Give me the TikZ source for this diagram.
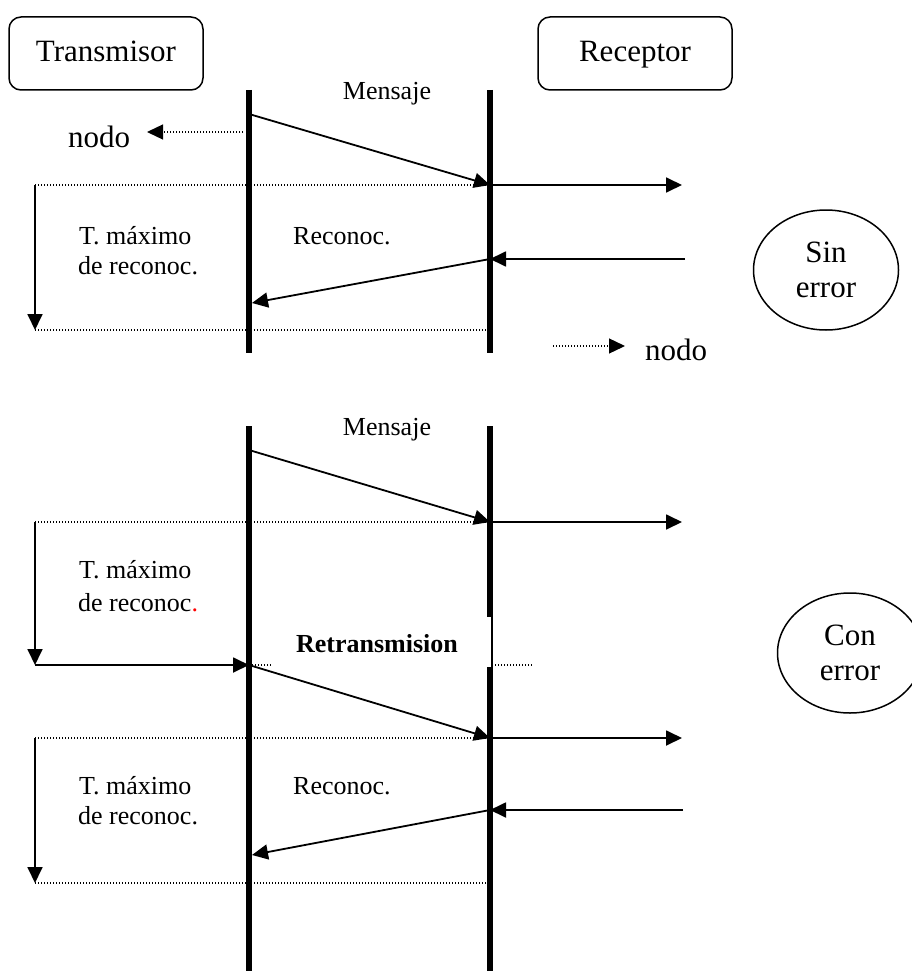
\documentclass[tikz,border=0pt]{standalone}
\usepackage{fontspec}
\setmainfont{Liberation Serif}
\usetikzlibrary{arrows.meta,shapes.geometric}
\begin{document}
\begin{tikzpicture}[x=1pt,y=-1pt,
  big/.style={font=\fontsize{31}{35}\selectfont, inner sep=0pt},
  small/.style={font=\fontsize{26}{30}\selectfont, inner sep=0pt},
  actor/.style={draw, line width=1.5pt, rounded corners=12pt,
    minimum width=194pt, minimum height=73pt, text height=23pt, text depth=7pt,
    font=\fontsize{31}{35}\selectfont},
  lifeline/.style={line width=6pt},
  msg/.style={line width=1.8pt, -{Triangle[length=16pt,width=15pt]}},
  plain/.style={line width=1.8pt},
  guide/.style={line width=1.3pt, dash pattern=on 1.3pt off 1.7pt},
  guidearrow/.style={guide, -{Triangle[length=16pt,width=15pt]}},
  state/.style={draw, ellipse, line width=1.5pt, inner sep=0pt,
    minimum width=145pt, minimum height=120pt, align=center,
    font=\fontsize{31}{35}\selectfont}
]
\clip (0,0) rectangle (912,971);

% actors
\node[actor] (tx) at (106,53.5) {Transmisor};
\node[actor] (rx) at (635,53.5) {Receptor};

% ---------- error-free exchange ----------
\coordinate (L1t) at (249,90);  \coordinate (L1b) at (249,353);
\coordinate (R1t) at (490,90);  \coordinate (R1b) at (490,353);
\draw[lifeline] (L1t) -- (L1b);
\draw[lifeline] (R1t) -- (R1b);

\node[small, anchor=base] (msg1) at (387,100) {Mensaje};
\coordinate (m1s) at (249,114); \coordinate (m1e) at (490,185);
\draw[msg] (m1s) -- (m1e);

\node[big, anchor=base west] (nodoA) at (68,147) {nodo};
\coordinate (nAs) at (243,132); \coordinate (nAe) at (147,132);
\draw[guidearrow] (nAs) -- (nAe);

\coordinate (g1a) at (35,185);  \coordinate (g1b) at (35,330);
\draw[guide] (g1a) -- (m1e);
\draw[guide] (g1b) -- (R1b |- g1b);
\draw[msg] (g1a) -- (g1b);
\coordinate (o1) at (682,185);
\draw[msg] (m1e) -- (o1);

\node[small, anchor=base west] (tm1a) at (79,244) {T. máximo};
\node[small, anchor=base west] (tm1b) at (78,274) {de reconoc.};
\node[small, anchor=base west] (ack1) at (293,244) {Reconoc.};

\coordinate (a1s) at (685,259); \coordinate (a1m) at (490,259);
\coordinate (a1e) at (252,303);
\draw[msg] (a1s) -- (a1m);
\draw[msg] (a1m) -- (a1e);

\node[state] (ok) at (826,270) {Sin\\error};

\coordinate (nBs) at (553,346); \coordinate (nBe) at (625,346);
\draw[guidearrow] (nBs) -- (nBe);
\node[big, anchor=base west] (nodoB) at (645,360) {nodo};

% ---------- exchange with retransmission ----------
\coordinate (L2t) at (249,426); \coordinate (L2b) at (249,971);
\coordinate (R2t) at (490,426); \coordinate (R2b) at (490,971);
\draw[lifeline] (L2t) -- (L2b);
\draw[lifeline] (R2t) -- (R2b);

\node[small, anchor=base] (msg2) at (387,435) {Mensaje};
\coordinate (m2s) at (249,450); \coordinate (m2e) at (490,522);
\draw[msg] (m2s) -- (m2e);

\coordinate (g2a) at (35,522); \coordinate (g2b) at (35,665);
\draw[guide] (g2a) -- (m2e);
\draw[msg] (g2a) -- (g2b);
\coordinate (o2) at (682,522);
\draw[msg] (m2e) -- (o2);

\node[small, anchor=base west] (tm2a) at (79,578) {T. máximo};
\node[small, anchor=base west] (tm2b) at (78,611) {de reconoc{\color{red}.}};

\coordinate (m3s) at (249,665);
\draw[msg] (g2b) -- (m3s);
\coordinate (rt) at (532,665);
\draw[guide] (m3s) -- (rt);
\fill[white] (273,617) rectangle (491,667);
\node[small, anchor=base, font=\fontsize{26}{30}\selectfont\bfseries] (retx) at (377,652) {Retransmision};

\node[state] (err) at (850,653) {Con\\error};

\coordinate (m3e) at (490,738);
\draw[msg] (m3s) -- (m3e);

\coordinate (g3a) at (35,738); \coordinate (g3b) at (35,883);
\draw[guide] (g3a) -- (m3e);
\draw[guide] (g3b) -- (R2b |- g3b);
\draw[msg] (g3a) -- (g3b);
\coordinate (o3) at (682,738);
\draw[msg] (m3e) -- (o3);

\node[small, anchor=base west] (tm3a) at (79,794) {T. máximo};
\node[small, anchor=base west] (tm3b) at (78,824) {de reconoc.};
\node[small, anchor=base west] (ack2) at (293,794) {Reconoc.};

\coordinate (a2s) at (683,810); \coordinate (a2m) at (490,810);
\coordinate (a2e) at (252,855);
\draw[msg] (a2s) -- (a2m);
\draw[msg] (a2m) -- (a2e);
\end{tikzpicture}
\end{document}
